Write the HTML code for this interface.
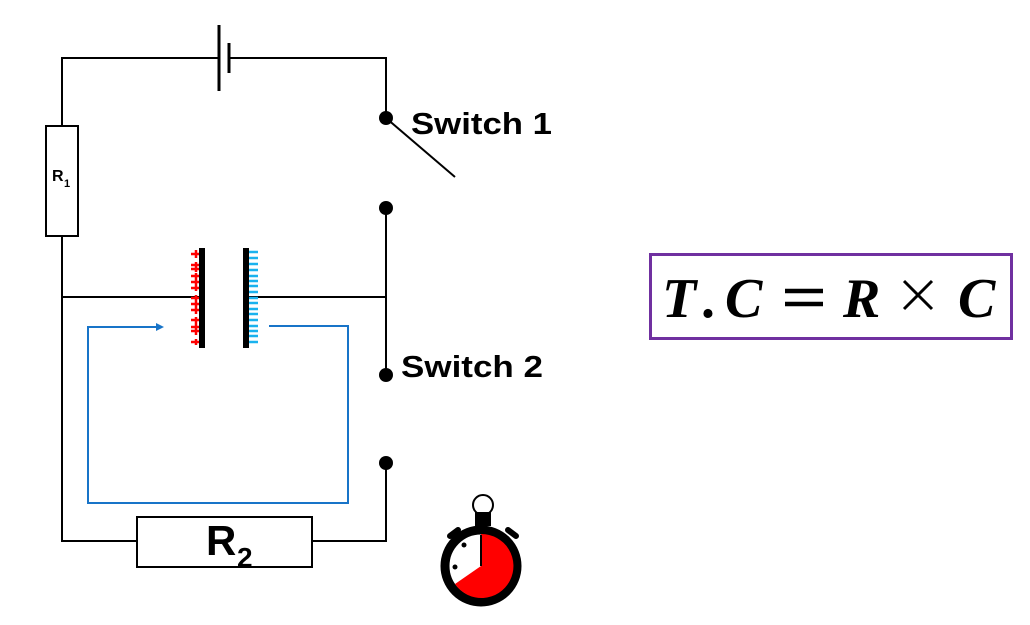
<!DOCTYPE html>
<html><head><meta charset="utf-8"><style>html,body{margin:0;padding:0;background:#fff}svg{display:block}</style></head>
<body>
<svg width="1030" height="625" viewBox="0 0 1030 625" xmlns="http://www.w3.org/2000/svg">
<g stroke="#000" stroke-width="2" fill="none">
<path d="M219 58 H62 V126 M62 236 V541 H137 M312 541 H386 V463"/>
<path d="M229 58 H386 V118"/>
<path d="M386 208 V375"/>
<path d="M62 297 H199 M248 297 H386"/>
<path d="M386 118 L455 177"/>
<rect x="46" y="126" width="32" height="110" fill="#fff"/>
<rect x="137" y="517" width="175" height="50" fill="#fff"/>
</g>
<line x1="219" y1="25" x2="219" y2="91" stroke="#000" stroke-width="3"/>
<line x1="229" y1="43" x2="229" y2="73" stroke="#000" stroke-width="3"/>
<g fill="#000"><circle cx="386" cy="118" r="7"/><circle cx="386" cy="208" r="7"/><circle cx="386" cy="375" r="7"/><circle cx="386" cy="463" r="7"/></g>
<rect x="199" y="248" width="6" height="100" fill="#000"/>
<rect x="243" y="248" width="6" height="100" fill="#000"/>
<g stroke="#f00" stroke-width="2.5">
<path d="M191 254h8M191 265h8M191 269h8M191 276h8M191 282h8M191 288h8M191 298h8M191 304h8M191 310h8M191 320h8M191 327h8M191 331h8M191 342h8"/>
<path d="M196 250v8M196 262v10M196 273v18M196 295v19M196 317v18M196 339v6"/>
</g>
<g stroke="#1ab2ee" stroke-width="2.5">
<path d="M249 252h9M249 258h9M249 264h9M249 270h9M249 276h9M249 281h9M249 286h9M249 292h9M249 298h9M249 303h9M249 309h9M249 314h9M249 320h9M249 326h9M249 331h9M249 336h9M249 342h9"/>
</g>
<path d="M269 326 H348 V503 H88 V327 H157" stroke="#1874c8" stroke-width="2" fill="none"/>
<path d="M164 327 L156 323 V331 Z" fill="#1874c8"/>
<text x="52" y="181" font-family="Liberation Sans, sans-serif" font-weight="bold" font-size="16">R</text>
<text x="64" y="187" font-family="Liberation Sans, sans-serif" font-weight="bold" font-size="11">1</text>
<text x="206" y="555" font-family="Liberation Sans, sans-serif" font-weight="bold" font-size="42">R</text>
<text x="237" y="567" font-family="Liberation Sans, sans-serif" font-weight="bold" font-size="28">2</text>
<text x="411" y="134" font-family="Liberation Sans, sans-serif" font-weight="bold" font-size="31" textLength="141" lengthAdjust="spacingAndGlyphs">Switch 1</text>
<text x="401" y="377" font-family="Liberation Sans, sans-serif" font-weight="bold" font-size="31" textLength="142" lengthAdjust="spacingAndGlyphs">Switch 2</text>
<rect x="650.5" y="254.5" width="361" height="84" fill="none" stroke="#7030a0" stroke-width="3"/>
<g font-family="Liberation Serif, serif" font-weight="bold" font-style="italic" font-size="56">
<text x="662" y="317">T</text>
<text x="703" y="317">.</text>
<text x="725" y="317">C</text>
<text x="843" y="317">R</text>
<text x="958" y="317">C</text>
</g>
<g stroke="#000" stroke-width="4.5">
<line x1="785" y1="291" x2="823" y2="291"/><line x1="785" y1="304" x2="823" y2="304"/>
<line x1="904" y1="281" x2="932" y2="309" stroke-width="3"/><line x1="932" y1="281" x2="904" y2="309" stroke-width="3"/>
</g>
<circle cx="483" cy="505" r="10" fill="none" stroke="#000" stroke-width="2"/>
<rect x="475" y="512" width="16" height="14" fill="#000"/>
<g stroke="#000" stroke-width="6" stroke-linecap="round"><line x1="450" y1="536" x2="458" y2="530"/><line x1="516" y1="536" x2="508" y2="530"/></g>
<circle cx="481" cy="566" r="36" fill="#fff" stroke="#000" stroke-width="9"/>
<path d="M481 566 L481 534 A32 32 0 1 1 455 584 Z" fill="#f00"/>
<line x1="481" y1="566" x2="481" y2="535" stroke="#000" stroke-width="2"/>
<g fill="#000"><circle cx="464" cy="545" r="2.5"/><circle cx="455" cy="567" r="2.5"/></g>
</svg>
</body></html>
